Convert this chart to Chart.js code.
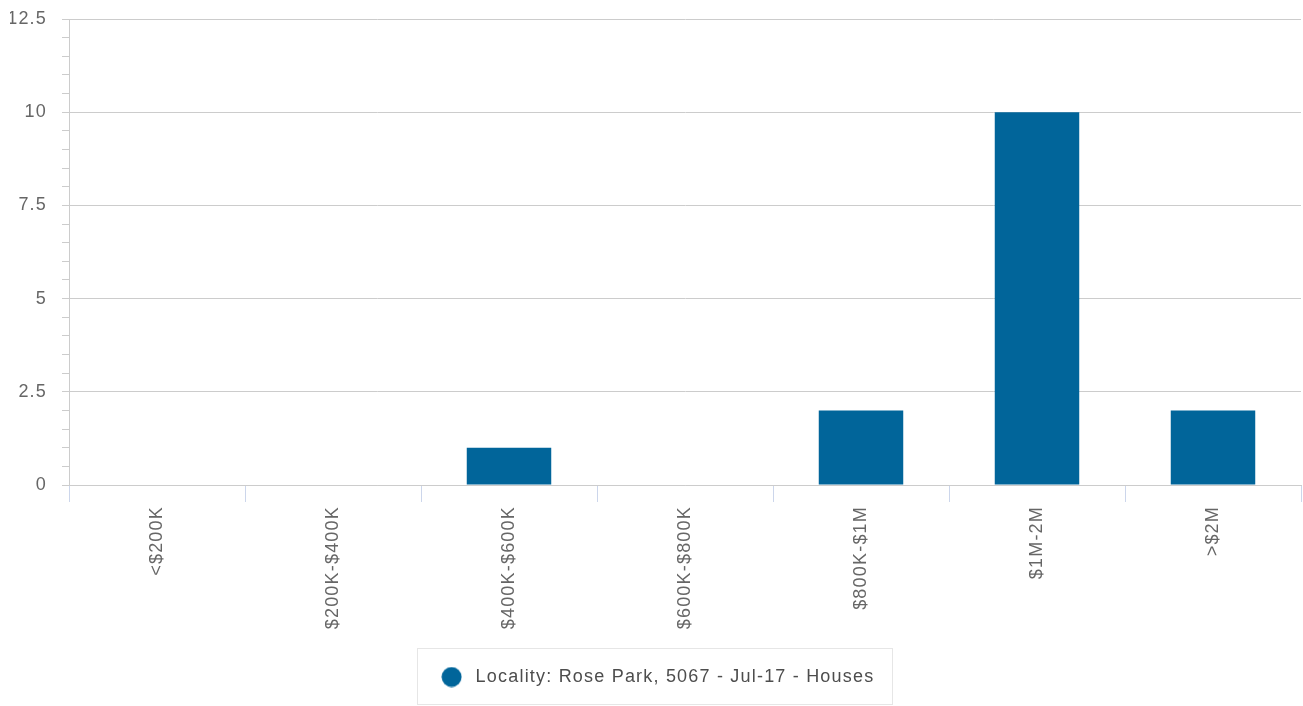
<!DOCTYPE html>
<html>
<head>
<meta charset="utf-8">
<script src="https://cdn.jsdelivr.net/npm/chart.js@4/dist/chart.umd.min.js"></script>
<style>
    html, body { margin: 0; padding: 0; background: #fff; }
    #wrap { width: 1303px; height: 706px; }
</style>
</head>
<body>
<div id="wrap"><canvas id="chart"></canvas></div>
<script>
const categories = ['<$200K', '$200K-$400K', '$400K-$600K', '$600K-$800K', '$800K-$1M', '$1M-2M', '>$2M'];
const salesCounts = [0, 0, 1, 0, 2, 10, 2];
const seriesLabel = 'Locality: Rose Park, 5067 - Jul-17 - Houses';
const yMajorTicks = [0, 2.5, 5, 7.5, 10, 12.5];

const FONT = '"Liberation Sans", Arial, sans-serif';
const BAR_COLOR = '#01659a';
const SPACING = '1.2px';

// round legend marker, drawn once so the legend box can be wider than the dot
const dot = document.createElement('canvas');
dot.width = 21;
dot.height = 21;
(function () {
    const c = dot.getContext('2d');
    c.fillStyle = BAR_COLOR;
    c.beginPath();
    c.arc(10.5, 10.5, 10, 0, Math.PI * 2);
    c.fill();
})();

// the original text is a bit wider than Liberation Sans
const wideText = {
    id: 'wideText',
    beforeUpdate(chart) { chart.ctx.letterSpacing = SPACING; },
    beforeLayout(chart) { chart.ctx.letterSpacing = SPACING; },
    beforeDraw(chart) { chart.ctx.letterSpacing = SPACING; }
};

// box around the legend, like the original
const legendBorder = {
    id: 'legendBorder',
    afterDraw(chart) {
        const lg = chart.legend;
        if (!lg || !lg.legendHitBoxes.length) return;
        const hb = lg.legendHitBoxes[0];
        const ctx = chart.ctx;
        ctx.save();
        ctx.strokeStyle = '#e6e6e6';
        ctx.lineWidth = 1;
        const left = Math.round(hb.left) - 19.5;
        const right = Math.round(hb.left + hb.width) + 18.5;
        const top = Math.round(lg.top) + 0.5;
        ctx.strokeRect(left, top, right - left, 56);
        ctx.restore();
    }
};

const isMajor = v => yMajorTicks.includes(Math.round(v * 10) / 10);

new Chart(document.getElementById('chart'), {
    type: 'bar',
    data: {
        labels: categories,
        datasets: [{
            label: seriesLabel,
            data: salesCounts,
            backgroundColor: BAR_COLOR,
            borderWidth: 0,
            barPercentage: 0.48,
            categoryPercentage: 1
        }]
    },
    options: {
        responsive: true,
        maintainAspectRatio: false,
        animation: false,
        layout: { padding: { top: 19, right: 2, bottom: 10, left: 10 } },
        plugins: {
            tooltip: { enabled: false },
            legend: {
                position: 'bottom',
                labels: {
                    usePointStyle: true,
                    pointStyle: dot,
                    pointStyleWidth: 30,
                    boxHeight: 14,
                    padding: 20,
                    color: '#4d4d4d',
                    font: { family: FONT, size: 18 }
                }
            }
        },
        scales: {
            x: {
                grid: {
                    offset: true,
                    drawOnChartArea: false,
                    tickLength: 17,
                    tickColor: '#ccd6eb'
                },
                border: { color: '#cccccc' },
                ticks: {
                    maxRotation: 90,
                    minRotation: 90,
                    padding: 4,
                    color: '#666666',
                    font: { family: FONT, size: 18 }
                },
                afterFit(scale) {
                    scale.height = 163;
                    scale.paddingLeft = 0;
                    scale.paddingRight = 0;
                }
            },
            y: {
                min: 0,
                max: 12.5,
                grid: {
                    color: ctx => isMajor(ctx.tick.value) ? '#cccccc' : 'rgba(0,0,0,0)',
                    tickColor: '#cccccc',
                    tickLength: 7
                },
                border: { color: '#cccccc' },
                ticks: {
                    stepSize: 0.5,
                    autoSkip: false,
                    padding: 15,
                    color: '#666666',
                    font: { family: FONT, size: 18 },
                    callback: v => isMajor(v) ? String(v) : ''
                },
                afterFit(scale) {
                    scale.width = 59;
                    scale.paddingTop = 0;
                    scale.paddingBottom = 0;
                }
            }
        }
    },
    plugins: [wideText, legendBorder]
});
</script>
</body>
</html>
